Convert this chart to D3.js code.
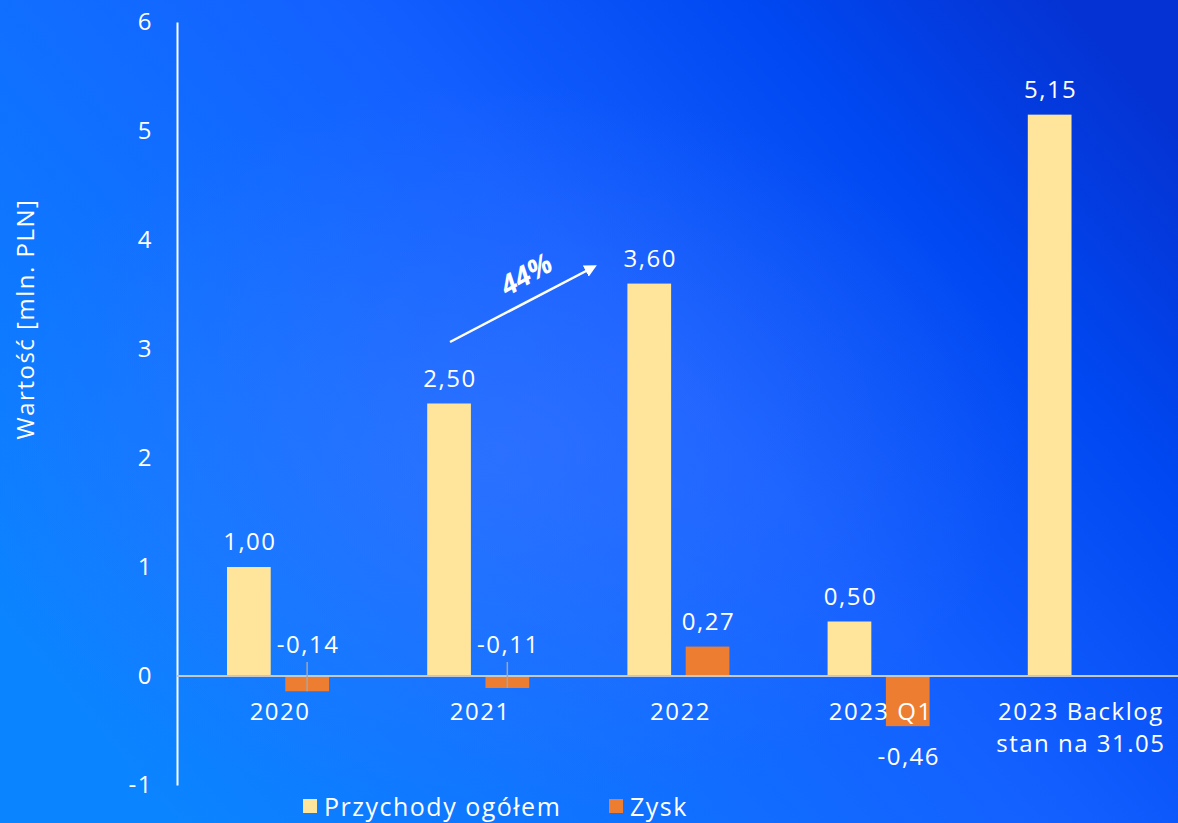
<!DOCTYPE html>
<html>
<head>
<meta charset="utf-8">
<script src="https://cdn.jsdelivr.net/npm/d3@7"></script>
<style>
  html, body { margin: 0; padding: 0; overflow: hidden; }
  #chart svg { display: block; }
  text { font-family: "Open Sans", "Noto Sans", sans-serif; fill: #fff; letter-spacing: 1.5px; }
</style>
</head>
<body>
<div id="chart"></div>
<script>
// Data
var categories = ["2020", "2021", "2022", "2023 Q1", "2023 Backlog|stan na 31.05"];
var revenue = [1.00, 2.50, 3.60, 0.50, 5.15];   // Przychody ogółem
var profit = [-0.14, -0.11, 0.27, -0.46, null]; // Zysk
var yTicks = [-1, 0, 1, 2, 3, 4, 5, 6];
var seriesNames = ["Przychody ogółem", "Zysk"];
var seriesColors = ["#FFE59B", "#ED7D31"];

var W = 1178, H = 823;

var svg = d3.select("#chart")
  .append("svg")
  .attr("width", W)
  .attr("height", H);

// background gradient
var defs = svg.append("defs");
var lg = defs.append("linearGradient")
  .attr("id", "bg")
  .attr("x1", "0").attr("y1", "0.75")
  .attr("x2", "1").attr("y2", "0.15");
lg.append("stop").attr("offset", "0").attr("stop-color", "#0b84ff");
lg.append("stop").attr("offset", "0.55").attr("stop-color", "#1460ff");
lg.append("stop").attr("offset", "0.8").attr("stop-color", "#0048f2");
lg.append("stop").attr("offset", "1").attr("stop-color", "#0532d2");

var rg = defs.append("radialGradient")
  .attr("id", "glow")
  .attr("cx", "0.42").attr("cy", "0.55").attr("r", "0.45");
rg.append("stop").attr("offset", "0").attr("stop-color", "#4a78ff").attr("stop-opacity", 0.45);
rg.append("stop").attr("offset", "1").attr("stop-color", "#4a78ff").attr("stop-opacity", 0);

defs.append("marker")
  .attr("id", "arrow")
  .attr("viewBox", "0 0 10 10")
  .attr("refX", 2).attr("refY", 5)
  .attr("markerWidth", 5).attr("markerHeight", 5)
  .attr("orient", "auto")
  .append("path")
  .attr("d", "M0,0 L10,5 L0,10 z")
  .attr("fill", "#fff");

svg.append("rect").attr("width", W).attr("height", H).attr("fill", "url(#bg)");
svg.append("rect").attr("width", W).attr("height", H).attr("fill", "url(#glow)");

// scales
var x = d3.scaleBand()
  .domain(categories)
  .range([177, 1178]);

var xInner = d3.scaleBand()
  .domain([0, 1])
  .range([50, 152])
  .paddingInner(0.25);

var y = d3.scaleLinear()
  .domain([-1, 6])
  .range([785, 22]);

// y axis
var yAxis = d3.axisLeft(y)
  .tickValues(yTicks)
  .tickSize(0)
  .tickPadding(24)
  .tickFormat(function (d) { return String(d); });

var gy = svg.append("g")
  .attr("transform", "translate(177,0)")
  .call(yAxis);
gy.select(".domain").attr("stroke", "#fff").attr("stroke-width", 2);
gy.selectAll("text")
  .attr("fill", "#fff")
  .style("font-size", "24px")
  .style("font-family", "'Open Sans', sans-serif");

svg.append("text")
  .attr("transform", "translate(34," + 319 + ") rotate(-90)")
  .attr("text-anchor", "middle")
  .style("font-size", "24px")
  .text("Wartość [mln. PLN]");

// bars
var bars = [];
categories.forEach(function (c, i) {
  bars.push({ cat: c, s: 0, v: revenue[i] });
  if (profit[i] !== null) bars.push({ cat: c, s: 1, v: profit[i] });
});

svg.selectAll("rect.bar")
  .data(bars)
  .enter()
  .append("rect")
  .attr("class", "bar")
  .attr("x", function (d) { return x(d.cat) + xInner(d.s); })
  .attr("width", xInner.bandwidth())
  .attr("y", function (d) { return y(Math.max(0, d.v)); })
  .attr("height", function (d) { return Math.abs(y(d.v) - y(0)); })
  .attr("fill", function (d) { return seriesColors[d.s]; });

// zero line
svg.append("line")
  .attr("x1", 177).attr("x2", W)
  .attr("y1", y(0)).attr("y2", y(0))
  .attr("stroke", "#c8c8c8")
  .attr("stroke-width", 2);

// category labels
var xl = svg.selectAll("text.cat")
  .data(categories)
  .enter()
  .append("text")
  .attr("class", "cat")
  .attr("text-anchor", "middle")
  .style("font-size", "24px")
  .attr("x", function (d) { return x(d) + x.bandwidth() / 2 + 3; })
  .attr("y", 720);
xl.each(function (d) {
  var parts = d.split("|");
  var t = d3.select(this);
  parts.forEach(function (p, k) {
    t.append("tspan")
      .attr("x", t.attr("x"))
      .attr("dy", k === 0 ? 0 : 32)
      .text(p);
  });
});

// value labels (plain hyphen, decimal comma)
var fmt = function (v) { return v.toFixed(2).replace(".", ","); };
bars.forEach(function (d) {
  var cx = x(d.cat) + xInner(d.s) + xInner.bandwidth() / 2;
  var ty;
  if (d.v >= 0) {
    ty = y(d.v) - 17;
  } else if (d.v > -0.2) {
    // small negative: label above with leader line
    ty = y(0) - 23;
    svg.append("line")
      .attr("x1", cx).attr("x2", cx)
      .attr("y1", y(0) - 14).attr("y2", y(d.v))
      .attr("stroke", "#a6a6a6")
      .attr("stroke-width", 1.5);
  } else {
    ty = y(d.v) + 39;
  }
  svg.append("text")
    .attr("x", cx + 1)
    .attr("y", ty)
    .attr("text-anchor", "middle")
    .style("font-size", "24px")
    .text(fmt(d.v));
});

// growth arrow
svg.append("line")
  .attr("x1", 450).attr("y1", 342)
  .attr("x2", 588).attr("y2", 270)
  .attr("stroke", "#fff")
  .attr("stroke-width", 2.5)
  .attr("marker-end", "url(#arrow)");

svg.append("text")
  .attr("transform", "translate(531,283) rotate(-30)")
  .attr("text-anchor", "middle")
  .style("font-size", "28px")
  .style("font-weight", "bold")
  .style("font-style", "italic")
  .style("letter-spacing", "0px")
  .text("44%");

// legend
var legend = svg.append("g");
var lx = [303, 609];
seriesNames.forEach(function (n, i) {
  legend.append("rect")
    .attr("x", lx[i]).attr("y", 799)
    .attr("width", 14).attr("height", 14)
    .attr("fill", seriesColors[i]);
  legend.append("text")
    .attr("x", lx[i] + 21).attr("y", 816)
    .style("font-size", "25px")
    .text(n);
});
</script>
</body>
</html>
